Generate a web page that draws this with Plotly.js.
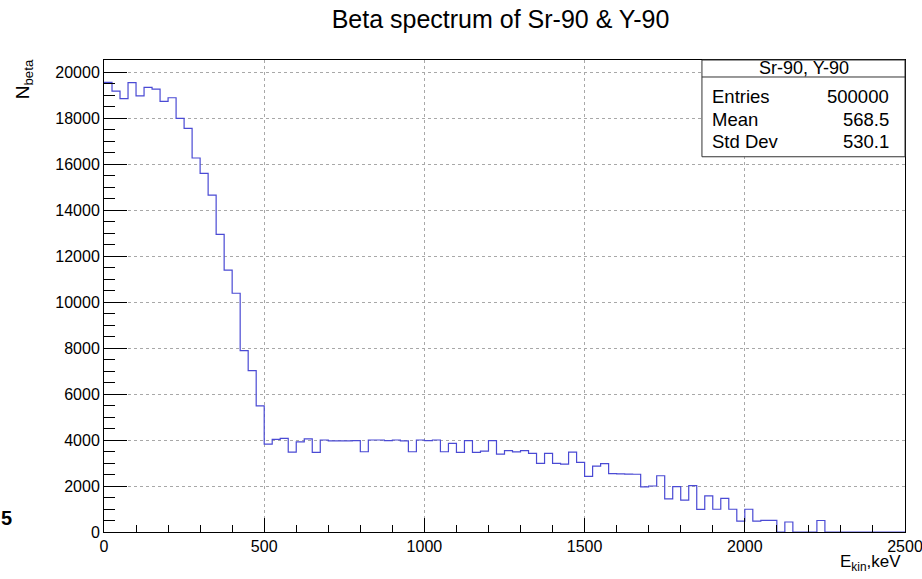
<!DOCTYPE html>
<html>
<head>
<meta charset="utf-8">
<script src="https://cdn.plot.ly/plotly-3.0.1.min.js"></script>
<style>html,body{margin:0;padding:0;background:#fff;}#chart{width:922px;height:579px;}</style>
</head>
<body>
<div id="chart"></div>
<script>
// Histogram definition (Sr-90 & Y-90 beta spectrum), 100 bins from 0 to 2500 keV
const binLow = 0;
const binWidth = 25;
const counts = [
  19550, 19170, 18840, 19540, 18960, 19330, 19260, 18725, 18880, 17985,
  17550, 16260, 15595, 14650, 12940, 11390, 10380, 7885, 7015, 5480,
  3820, 4030, 4070, 3470, 3920, 4045, 3465, 4000, 3960, 3960,
  3960, 3970, 3490, 4000, 4000, 3970, 4000, 3960, 3490, 4000,
  3970, 4000, 3490, 3855, 3465, 3970, 3465, 3520, 3970, 3390,
  3535, 3480, 3535, 3420, 2985, 3420, 2985, 2955, 3475, 3030,
  2420, 2860, 2975, 2540, 2530, 2520, 2510, 1960, 2000, 2445,
  1440, 1970, 1390, 2015, 980, 1575, 990, 1465, 990, 470,
  990, 470, 505, 505, 0, 435, 0, 0, 0, 500,
  0, 0, 0, 0, 0, 0, 0, 0, 0, 0
];
const xTickVals = [0, 500, 1000, 1500, 2000, 2500];
const xTickText = ["0", "500", "1000", "1500", "2000", "2500"];
const yTickVals = [0, 2000, 4000, 6000, 8000, 10000, 12000, 14000, 16000, 18000, 20000];
const yTickText = ["0", "2000", "4000", "6000", "8000", "10000", "12000", "14000", "16000", "18000", "20000"];
const statLabels = ["Entries", "Mean", "Std Dev"];
const statValues = ["500000", "568.5", "530.1"];
const histName = "Sr-90, Y-90";
const titleText = "Beta spectrum of Sr-90 & Y-90";

// step outline through bin low edges
const xs = [], ys = [];
counts.forEach((c, i) => { xs.push(binLow + i * binWidth); ys.push(c); });
xs.push(binLow + counts.length * binWidth); ys.push(counts[counts.length - 1]);

const FONT = "Liberation Sans, Arial, Helvetica, sans-serif";

const trace = {
  x: xs, y: ys, type: "scatter", mode: "lines",
  line: {shape: "hv", color: "#4a4ad4", width: 1.2},
  hoverinfo: "skip", showlegend: false
};

const rowY = [0.922, 0.873, 0.827];
const annotations = [
  {xref: "paper", yref: "paper", x: 0.8735, y: 0.982, text: histName, showarrow: false,
   xanchor: "center", yanchor: "middle", font: {family: FONT, size: 18, color: "#000"}}
];
statLabels.forEach((lab, i) => {
  annotations.push({xref: "paper", yref: "paper", x: 0.757, y: rowY[i], text: lab, showarrow: false,
    xanchor: "left", yanchor: "middle", font: {family: FONT, size: 18.5, color: "#000"}});
  annotations.push({xref: "paper", yref: "paper", x: 0.983, y: rowY[i], text: statValues[i], showarrow: false,
    xanchor: "right", yanchor: "middle", font: {family: FONT, size: 18.5, color: "#000"}});
});
annotations.push({xref: "paper", yref: "paper", x: 0.997, y: -0.066, text: "E<sub>kin</sub>,keV",
  showarrow: false, xanchor: "right", yanchor: "middle", font: {family: FONT, size: 17, color: "#000"}});
annotations.push({xref: "paper", yref: "paper", x: -0.1006, y: 0.96, text: "N<sub>beta</sub>",
  textangle: -90, showarrow: false, xanchor: "center", yanchor: "middle", font: {family: FONT, size: 19, color: "#000"}});
annotations.push({xref: "paper", yref: "paper", x: -0.1305, y: 0.03, text: "<b>5</b>",
  showarrow: false, xanchor: "left", yanchor: "middle", font: {family: FONT, size: 20, color: "#000"}});

const layout = {
  width: 922, height: 579,
  margin: {l: 104, r: 17, t: 60, b: 47, pad: 0},
  paper_bgcolor: "#fff", plot_bgcolor: "#fff",
  title: {text: titleText, x: 0.495, xref: "paper", y: 0.966, yref: "container", yanchor: "middle",
          font: {family: FONT, size: 25, color: "#000"}},
  xaxis: {
    range: [0, 2500], tickmode: "array", tickvals: xTickVals, ticktext: xTickText,
    ticks: "inside", ticklen: 14, tickwidth: 1, tickcolor: "#000", ticklabeloverflow: "allow",
    showline: true, linecolor: "#000", linewidth: 1, mirror: true,
    showgrid: true, gridcolor: "#a8a8a8", griddash: "dot", gridwidth: 1, zeroline: false,
    minor: {dtick: 100, ticks: "inside", ticklen: 7, tickcolor: "#000", tickwidth: 1, showgrid: false},
    tickfont: {family: FONT, size: 16, color: "#000"}, fixedrange: true
  },
  yaxis: {
    range: [0, 20522], tickmode: "array", tickvals: yTickVals, ticktext: yTickText,
    ticks: "inside", ticklen: 23, tickwidth: 1, tickcolor: "#000",
    showline: true, linecolor: "#000", linewidth: 1, mirror: true,
    showgrid: true, gridcolor: "#a8a8a8", griddash: "dot", gridwidth: 1, zeroline: false,
    minor: {dtick: 500, ticks: "inside", ticklen: 11, tickcolor: "#000", tickwidth: 1, showgrid: false},
    tickfont: {family: FONT, size: 16, color: "#000"}, fixedrange: true
  },
  shapes: [
    {type: "rect", xref: "paper", yref: "paper", x0: 0.7465, x1: 1.0, y0: 0.795, y1: 1.0,
     fillcolor: "#fff", line: {color: "#333", width: 1}, layer: "above"},
    {type: "line", xref: "paper", yref: "paper", x0: 0.7465, x1: 1.0, y0: 0.964, y1: 0.964,
     line: {color: "#333", width: 1}, layer: "above"}
  ],
  annotations: annotations
};

Plotly.newPlot("chart", [trace], layout, {displayModeBar: false, staticPlot: true});
</script>
</body>
</html>
